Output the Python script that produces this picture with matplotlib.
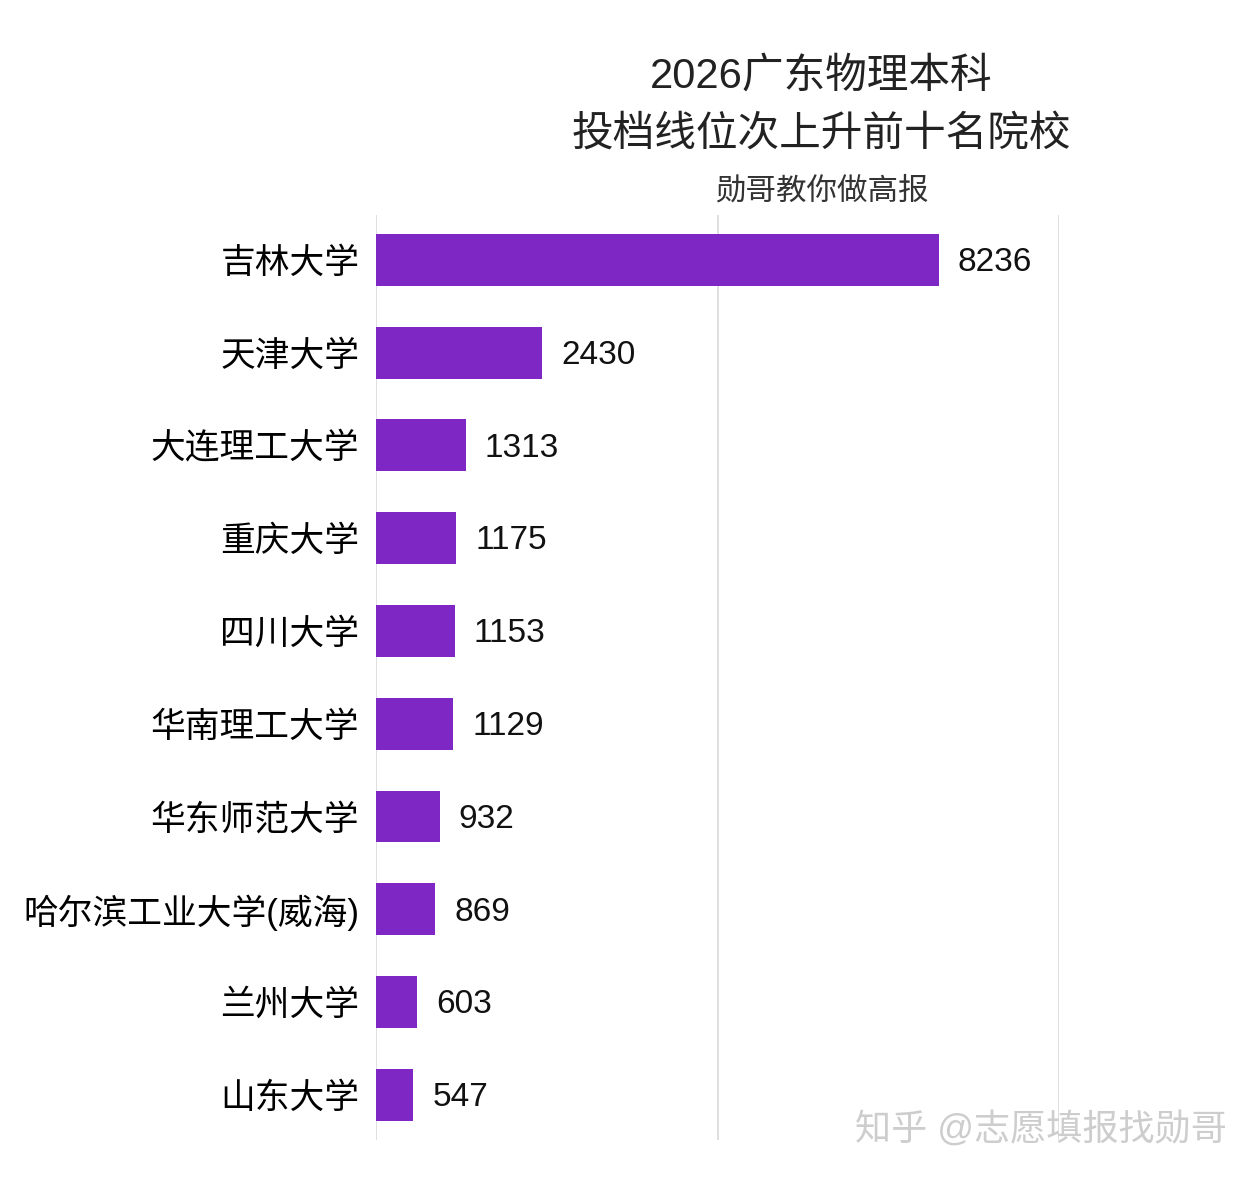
import matplotlib.pyplot as plt

plt.rcParams['font.family'] = ['Liberation Sans', 'Noto Sans CJK SC', 'DejaVu Sans']

schools = ["吉林大学", "天津大学", "大连理工大学", "重庆大学", "四川大学",
           "华南理工大学", "华东师范大学", "哈尔滨工业大学(威海)", "兰州大学", "山东大学"]
rises = [8236, 2430, 1313, 1175, 1153, 1129, 932, 869, 603, 547]

fig = plt.figure(figsize=(12.58, 11.8), dpi=100)
ax = fig.add_axes([376 / 1258, 0.034, (1059 - 376) / 1258, 0.784])

ax.barh(range(len(schools)), rises, height=0.56, color="#7E27C4", zorder=3)
for i, v in enumerate(rises):
    ax.text(v + 280, i + 0.03, str(v), va="center", ha="left", fontsize=24, color="#111111")

ax.set_xlim(0, 10000)
ax.set_ylim(len(schools) - 0.515, -0.485)
ax.set_yticks(range(len(schools)))
ax.set_yticklabels(schools, fontsize=25)
ax.tick_params(axis="y", length=0, pad=12)
ax.set_xticks([0, 5000, 10000])
ax.set_xticklabels([])
ax.tick_params(axis="x", length=0)
ax.grid(axis="x", color="#d9d9d9", linewidth=1.2, zorder=0)
for s in ax.spines.values():
    s.set_visible(False)

fig.text(0.653, 0.935, "2026广东物理本科", ha="center", va="center", fontsize=30, color="#222222")
fig.text(0.653, 0.886, "投档线位次上升前十名院校", ha="center", va="center", fontsize=30, color="#222222")
fig.text(0.653, 0.838, "勋哥教你做高报", ha="center", va="center", fontsize=22, color="#333333")
fig.text(0.975, 0.043, "知乎 @志愿填报找勋哥", ha="right", va="center", fontsize=26, color="#c8c8c8", alpha=0.9)

fig.savefig("out.png", dpi=100, facecolor="white")
